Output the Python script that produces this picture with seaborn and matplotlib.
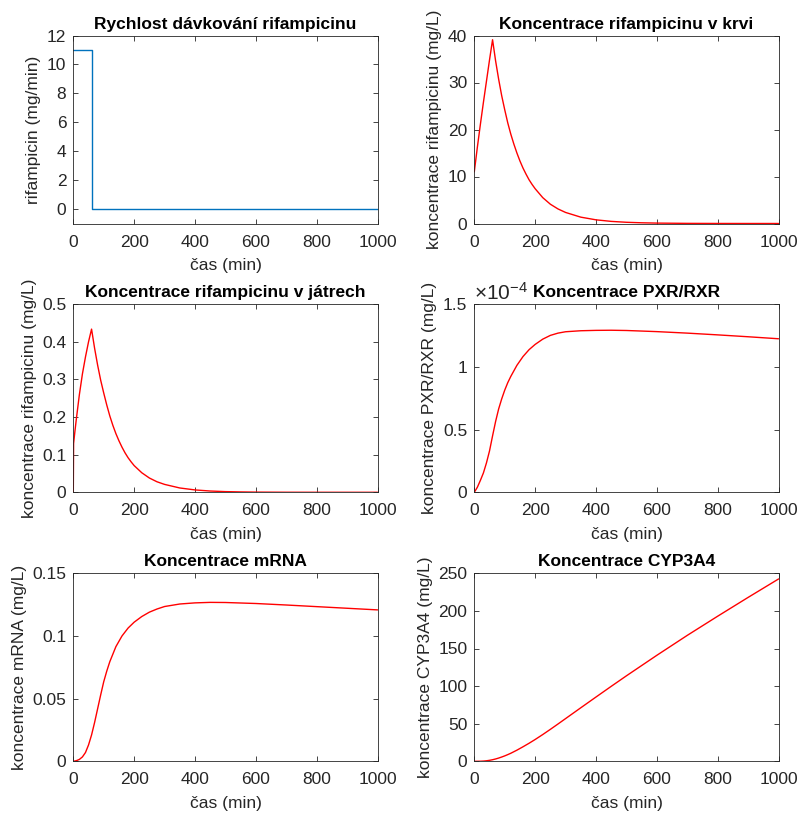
import numpy as np
import matplotlib
matplotlib.use("Agg")
import matplotlib.pyplot as plt
import seaborn as sns
from matplotlib.ticker import FuncFormatter

# Data (time in min)
t_dose = [0, 60, 1000]
dose_rate = [11, 0, 0]

t_blood = [0, 10, 20, 30, 40, 50, 60, 70, 80, 90, 100, 110, 120, 130, 140, 150, 160, 170,
           180, 190, 200, 225, 250, 275, 300, 350, 400, 450, 500, 550, 600, 700, 800, 900, 1000]
blood = [11.0, 16.2, 21.1, 25.8, 30.3, 34.8, 39.1, 34.6, 30.7, 27.2, 24.2, 21.4, 19.0, 16.9,
         15.0, 13.3, 11.8, 10.5, 9.3, 8.3, 7.4, 5.5, 4.1, 3.1, 2.35, 1.35, 0.78, 0.45, 0.26,
         0.15, 0.085, 0.028, 0.009, 0.003, 0.001]

t_liver = [0, 1, 5, 10, 20, 30, 40, 50, 60, 70, 80, 90, 100, 110, 120, 130, 140, 150, 160,
           170, 180, 190, 200, 225, 250, 275, 300, 350, 400, 450, 500, 550, 600, 700, 800, 900, 1000]
liver = [0, 0.13, 0.16, 0.195, 0.26, 0.315, 0.36, 0.40, 0.434, 0.383, 0.338, 0.298, 0.264,
         0.232, 0.203, 0.178, 0.156, 0.137, 0.120, 0.105, 0.092, 0.081, 0.071, 0.052, 0.038,
         0.028, 0.021, 0.0115, 0.0063, 0.0034, 0.0018, 0.001, 0.0005, 0.00015, 0.00005,
         0.00002, 0.00001]

t_grid = [0, 10, 20, 30, 40, 50, 60, 70, 80, 90, 100, 110, 120, 140, 160, 180, 200, 225, 250,
          275, 300, 350, 400, 450, 500, 600, 700, 800, 900, 1000]
pxr_e4 = [0, 0.04, 0.095, 0.155, 0.235, 0.33, 0.45, 0.565, 0.665, 0.745, 0.815, 0.875, 0.925,
          1.013, 1.083, 1.138, 1.18, 1.222, 1.252, 1.27, 1.281, 1.289, 1.292, 1.293, 1.291,
          1.282, 1.27, 1.256, 1.241, 1.225]
mrna = [0, 0.0005, 0.0015, 0.0035, 0.007, 0.013, 0.021, 0.031, 0.042, 0.053, 0.0635, 0.072,
        0.0795, 0.0915, 0.1, 0.1063, 0.111, 0.1155, 0.119, 0.1215, 0.1235, 0.1255, 0.1264,
        0.1268, 0.1267, 0.1259, 0.1247, 0.1234, 0.1221, 0.1208]
cyp = [0, 0.02, 0.1, 0.3, 0.7, 1.3, 2.1, 3.1, 4.3, 5.7, 7.2, 8.9, 10.7, 14.8, 19.3, 24.0,
       29.0, 35.6, 42.5, 49.6, 56.8, 71.2, 85.5, 99.7, 113.7, 141.0, 167.5, 193.0, 218.0, 242.5]

pxr = np.array(pxr_e4) * 1e-4

sns.set_style("ticks")
plt.rcParams['font.family'] = ['Liberation Sans', 'DejaVu Sans']
plt.rcParams['font.size'] = 12.5
plt.rcParams['mathtext.fontset'] = 'custom'
plt.rcParams['mathtext.rm'] = 'Liberation Sans'
plt.rcParams['mathtext.it'] = 'Liberation Sans'

W, H = 800, 814
fig = plt.figure(figsize=(W / 100, H / 100), dpi=100)

lefts = [73.3, 474.3]
tops = [35.5, 304.3, 573.3]
aw, ah = 304.3, 188.0

def make_ax(row, col):
    l = lefts[col] / W
    b = 1 - (tops[row] + ah) / H
    return fig.add_axes([l, b, aw / W, ah / H])

panels = [
    (0, 0, t_dose, dose_rate, '#0072BD', 'Rychlost dávkování rifampicinu',
     'rifampicin (mg/min)', (-1, 12), np.arange(0, 13, 2)),
    (0, 1, t_blood, blood, 'red', 'Koncentrace rifampicinu v krvi',
     'koncentrace rifampicinu (mg/L)', (0, 40), np.arange(0, 41, 10)),
    (1, 0, t_liver, liver, 'red', 'Koncentrace rifampicinu v játrech',
     'koncentrace rifampicinu (mg/L)', (0, 0.5), np.linspace(0, 0.5, 6)),
    (1, 1, t_grid, pxr, 'red', 'Koncentrace PXR/RXR',
     'koncentrace PXR/RXR (mg/L)', (0, 1.5e-4), np.linspace(0, 1.5e-4, 4)),
    (2, 0, t_grid, mrna, 'red', 'Koncentrace mRNA',
     'koncentrace mRNA (mg/L)', (0, 0.15), np.linspace(0, 0.15, 4)),
    (2, 1, t_grid, cyp, 'red', 'Koncentrace CYP3A4',
     'koncentrace CYP3A4 (mg/L)', (0, 250), np.arange(0, 251, 50)),
]

for row, col, x, y, color, title, ylabel, ylim, yticks in panels:
    ax = make_ax(row, col)
    if row == 0 and col == 0:
        sns.lineplot(x=x, y=y, ax=ax, color=color, linewidth=1.0, drawstyle='steps-post')
    else:
        sns.lineplot(x=x, y=y, ax=ax, color=color, linewidth=1.0)
    ax.set_xlim(0, 1000)
    ax.set_xticks(np.arange(0, 1001, 200))
    ax.set_ylim(*ylim)
    ax.set_yticks(yticks)
    if row == 1 and col == 1:
        ax.yaxis.set_major_formatter(FuncFormatter(lambda v, p: '%g' % round(v * 1e4, 6)))
        ax.text(0.0, 1.0, r'$\times10^{-4}$', transform=ax.transAxes, fontsize=15,
                color='#262626', ha='left', va='bottom')
    else:
        ax.yaxis.set_major_formatter(FuncFormatter(lambda v, p: '%g' % round(v, 6)))
    ax.set_title(title, fontsize=12.5, fontweight='bold', color='black', pad=5)
    ax.set_xlabel('čas (min)', fontsize=12.5, color='#262626', labelpad=6)
    ax.set_ylabel(ylabel, fontsize=12.5, color='#262626', labelpad=4)
    ax.tick_params(axis='both', direction='in', length=3.5, width=0.6, colors='#262626',
                   labelsize=12.5, top=True, right=True)
    ax.tick_params(axis='x', pad=8)
    ax.tick_params(axis='y', pad=5)
    for s in ax.spines.values():
        s.set_visible(True)
        s.set_linewidth(0.6)
        s.set_color('#262626')

fig.savefig('out.png', dpi=100)
